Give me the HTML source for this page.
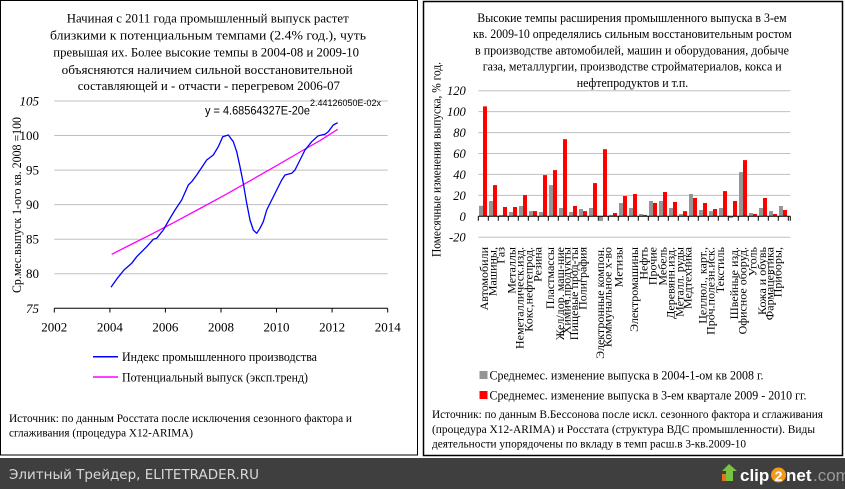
<!DOCTYPE html>
<html>
<head>
<meta charset="utf-8">
<style>
html,body{margin:0;padding:0;background:#fff;}
svg{display:block;}
.s{font-family:"Liberation Serif","Noto Serif CJK SC",serif;fill:#000;}
.a{font-family:"Liberation Sans","DejaVu Sans",sans-serif;}
</style>
</head>
<body>
<svg width="845" height="489" viewBox="0 0 845 489" xmlns="http://www.w3.org/2000/svg">
<rect x="0" y="0" width="845" height="489" fill="#fff"/>

<!-- LEFT PANEL -->
<rect x="0.5" y="0.5" width="417" height="454.5" fill="none" stroke="#000" stroke-width="1"/>
<g class="s" font-size="13">
<text x="66.7" y="22.5" textLength="282" lengthAdjust="spacingAndGlyphs">Начиная с 2011 года промышленный выпуск растет</text>
<text x="50" y="39.3" textLength="316" lengthAdjust="spacingAndGlyphs">близкими к потенциальным темпами (2.4% год.), чуть</text>
<text x="53.3" y="56.6" textLength="305.7" lengthAdjust="spacingAndGlyphs">превышая их. Более высокие темпы в 2004-08 и 2009-10</text>
<text x="61.7" y="73.9" textLength="291" lengthAdjust="spacingAndGlyphs">объясняются наличием сильной восстановительной</text>
<text x="77.7" y="90.2" textLength="262.3" lengthAdjust="spacingAndGlyphs">составляющей и - отчасти - перегревом 2006-07</text>
</g>

<!-- left gridlines -->
<g stroke="#c0c0c0" stroke-width="1">
<line x1="54.3" y1="101" x2="387.7" y2="101"/>
<line x1="54.3" y1="135.5" x2="387.7" y2="135.5"/>
<line x1="54.3" y1="170.1" x2="387.7" y2="170.1"/>
<line x1="54.3" y1="204.6" x2="387.7" y2="204.6"/>
<line x1="54.3" y1="239.2" x2="387.7" y2="239.2"/>
<line x1="54.3" y1="273.7" x2="387.7" y2="273.7"/>
</g>
<g stroke="#000" stroke-width="1">
<line x1="54.3" y1="308.3" x2="387.7" y2="308.3"/>
<line x1="54.3" y1="308.3" x2="54.3" y2="312.5"/>
<line x1="109.9" y1="308.3" x2="109.9" y2="312.5"/>
<line x1="165.4" y1="308.3" x2="165.4" y2="312.5"/>
<line x1="221" y1="308.3" x2="221" y2="312.5"/>
<line x1="276.5" y1="308.3" x2="276.5" y2="312.5"/>
<line x1="332.1" y1="308.3" x2="332.1" y2="312.5"/>
<line x1="387.7" y1="308.3" x2="387.7" y2="312.5"/>
</g>
<g class="s" font-size="13" text-anchor="end">
<text x="39" y="105.5" font-style="italic">105</text>
<text x="39" y="140">100</text>
<text x="39" y="174.6">95</text>
<text x="39" y="209.1">90</text>
<text x="39" y="243.7">85</text>
<text x="39" y="278.2">80</text>
<text x="39" y="312.8" font-style="italic">75</text>
</g>
<g class="s" font-size="13" text-anchor="middle">
<text x="54.3" y="331.5">2002</text>
<text x="109.9" y="331.5">2004</text>
<text x="165.4" y="331.5">2006</text>
<text x="221" y="331.5">2008</text>
<text x="276.5" y="331.5">2010</text>
<text x="332.1" y="331.5">2012</text>
<text x="387.7" y="331.5">2014</text>
</g>
<text class="s" font-size="13" transform="translate(21,205) rotate(-90)" text-anchor="middle" textLength="176" lengthAdjust="spacingAndGlyphs">Ср.мес.выпуск 1-ого кв. 2008 =100</text>

<!-- equation -->
<text class="a" font-size="12" x="205" y="114.5" textLength="105" lengthAdjust="spacingAndGlyphs">y = 4.68564327E-20e</text>
<text class="a" font-size="9.5" x="310" y="106" textLength="71" lengthAdjust="spacingAndGlyphs">2.44126050E-02x</text>

<!-- magenta trend -->
<path d="M111.7,254.3 L130,245 L150,234.9 L175,221.9 L200,208.5 L225,194.9 L250,180.8 L275,166.6 L300,152 L320,140.6 L337.7,129.3" fill="none" stroke="#ff00ff" stroke-width="1.3"/>
<!-- blue index -->
<path d="M111,287.3 L117.3,278.3 L124,270 L131.7,263.3 L136.7,256.7 L146.7,246.7 L153.3,239.3 L156.7,238.3 L163.3,230 L170,218.3 L175,210 L181.7,200 L188.3,185 L191.7,181.7 L196.7,175 L206.7,160 L213.3,155 L218.3,146.7 L222.7,136.7 L228.3,135 L233.3,141.7 L236.7,151.7 L240,166.7 L243.3,183.3 L246.7,203.3 L250,220 L253.3,230 L256.7,233.3 L260,228.3 L263.3,221.7 L266.7,210 L271.7,200 L276.7,190 L281.7,180 L285,175 L291.7,173.3 L295,170 L300,160 L305,150 L311.7,141.7 L318.3,135.7 L325,134.3 L328.3,131.7 L333.3,125 L337.7,122.7" fill="none" stroke="#0000ff" stroke-width="1.3" stroke-linejoin="round"/>

<!-- left legend -->
<line x1="93" y1="356.7" x2="118" y2="356.7" stroke="#0000ff" stroke-width="1.5"/>
<line x1="93" y1="377" x2="118" y2="377" stroke="#ff00ff" stroke-width="1.5"/>
<g class="s" font-size="13">
<text x="122" y="361" textLength="195" lengthAdjust="spacingAndGlyphs">Индекс промышленного производства</text>
<text x="122" y="381.5" textLength="186" lengthAdjust="spacingAndGlyphs">Потенциальный выпуск (эксп.тренд)</text>
</g>
<g class="s" font-size="12">
<text x="9" y="422" textLength="343" lengthAdjust="spacingAndGlyphs">Источник: по данным Росстата после исключения сезонного фактора и</text>
<text x="9" y="436.5" textLength="184" lengthAdjust="spacingAndGlyphs">сглаживания (процедура X12-ARIMA)</text>
</g>

<!-- RIGHT PANEL -->
<rect x="423.5" y="1.5" width="419" height="454" fill="none" stroke="#000" stroke-width="1.5"/>
<g class="s" font-size="13">
<text x="477.3" y="22" textLength="309.4" lengthAdjust="spacingAndGlyphs">Высокие темпы расширения промышленного выпуска в 3-ем</text>
<text x="473" y="38.2" textLength="318.7" lengthAdjust="spacingAndGlyphs">кв. 2009-10 определялись сильным восстановительным ростом</text>
<text x="475" y="54.4" textLength="314" lengthAdjust="spacingAndGlyphs">в производстве автомобилей, машин и оборудования, добыче</text>
<text x="482.7" y="70.6" textLength="299" lengthAdjust="spacingAndGlyphs">газа, металлургии, производстве стройматериалов, кокса и</text>
<text x="576.7" y="86.8" textLength="111.6" lengthAdjust="spacingAndGlyphs">нефтепродуктов и т.п.</text>
</g>

<!-- right gridlines -->
<g stroke="#c0c0c0" stroke-width="1">
<line x1="478.3" y1="90.7" x2="790.3" y2="90.7"/>
<line x1="478.3" y1="111.6" x2="790.3" y2="111.6"/>
<line x1="478.3" y1="132.6" x2="790.3" y2="132.6"/>
<line x1="478.3" y1="153.5" x2="790.3" y2="153.5"/>
<line x1="478.3" y1="174.4" x2="790.3" y2="174.4"/>
<line x1="478.3" y1="195.4" x2="790.3" y2="195.4"/>
<line x1="478.3" y1="237.2" x2="790.3" y2="237.2"/>
</g>
<g class="s" font-size="12.5" font-style="italic" text-anchor="end">
<text x="465.7" y="95.2">120</text>
<text x="465.7" y="116.1">100</text>
<text x="465.7" y="137.1">80</text>
<text x="465.7" y="158">60</text>
<text x="465.7" y="178.9">40</text>
<text x="465.7" y="199.9">20</text>
<text x="465.7" y="220.8">0</text>
<text x="465.7" y="241.7">-20</text>
</g>
<text class="s" font-size="13" transform="translate(440.5,159.5) rotate(-90)" text-anchor="middle" textLength="195" lengthAdjust="spacingAndGlyphs">Помесячные изменения выпуска, % год.</text>

<!-- bars gray -->
<g fill="#969696">
<rect x="479" y="205.8" width="4" height="10.5"/>
<rect x="489" y="201.0" width="4" height="15.3"/>
<rect x="499" y="214.9" width="4" height="1.4"/>
<rect x="509" y="212.0" width="4" height="4.3"/>
<rect x="519" y="206.0" width="4" height="10.3"/>
<rect x="529" y="211.1" width="4" height="5.2"/>
<rect x="539" y="212.0" width="4" height="4.3"/>
<rect x="549" y="185.1" width="4" height="31.2"/>
<rect x="559" y="208.0" width="4" height="8.3"/>
<rect x="569" y="212.0" width="4" height="4.3"/>
<rect x="579" y="209.0" width="4" height="7.3"/>
<rect x="589" y="208.0" width="4" height="8.3"/>
<rect x="599" y="216.3" width="4" height="4.6"/>
<rect x="609" y="214.9" width="4" height="1.4"/>
<rect x="619" y="203.0" width="4" height="13.3"/>
<rect x="629" y="208.0" width="4" height="8.3"/>
<rect x="639" y="214.0" width="4" height="2.3"/>
<rect x="649" y="201.0" width="4" height="15.3"/>
<rect x="659" y="201.0" width="4" height="15.3"/>
<rect x="669" y="208.0" width="4" height="8.3"/>
<rect x="679" y="214.0" width="4" height="2.3"/>
<rect x="689" y="194.0" width="4" height="22.3"/>
<rect x="699" y="210.0" width="4" height="6.3"/>
<rect x="709" y="211.1" width="4" height="5.2"/>
<rect x="719" y="208.0" width="4" height="8.3"/>
<rect x="729" y="216.3" width="4" height="1.7"/>
<rect x="739" y="172.1" width="4" height="44.2"/>
<rect x="749" y="213.0" width="4" height="3.3"/>
<rect x="759" y="208.0" width="4" height="8.3"/>
<rect x="769" y="211.1" width="4" height="5.2"/>
<rect x="779" y="206.0" width="4" height="10.3"/>
</g>
<!-- bars red -->
<g fill="#ff0000">
<rect x="483" y="106.4" width="4" height="109.9"/>
<rect x="493" y="185.1" width="4" height="31.2"/>
<rect x="503" y="207.0" width="4" height="9.3"/>
<rect x="513" y="207.0" width="4" height="9.3"/>
<rect x="523" y="195.1" width="4" height="21.2"/>
<rect x="533" y="211.1" width="4" height="5.2"/>
<rect x="543" y="175.1" width="4" height="41.2"/>
<rect x="553" y="170.1" width="4" height="46.2"/>
<rect x="563" y="139.2" width="4" height="77.1"/>
<rect x="573" y="206.0" width="4" height="10.3"/>
<rect x="583" y="211.1" width="4" height="5.2"/>
<rect x="593" y="183.1" width="4" height="33.2"/>
<rect x="603" y="149.2" width="4" height="67.1"/>
<rect x="613" y="213.0" width="4" height="3.3"/>
<rect x="623" y="196.0" width="4" height="20.3"/>
<rect x="633" y="194.0" width="4" height="22.3"/>
<rect x="643" y="214.9" width="4" height="1.4"/>
<rect x="653" y="203.0" width="4" height="13.3"/>
<rect x="663" y="192.0" width="4" height="24.3"/>
<rect x="673" y="202.0" width="4" height="14.3"/>
<rect x="683" y="211.1" width="4" height="5.2"/>
<rect x="693" y="198.0" width="4" height="18.3"/>
<rect x="703" y="203.0" width="4" height="13.3"/>
<rect x="713" y="209.0" width="4" height="7.3"/>
<rect x="723" y="191.1" width="4" height="25.2"/>
<rect x="733" y="201.0" width="4" height="15.3"/>
<rect x="743" y="160.1" width="4" height="56.2"/>
<rect x="753" y="214.0" width="4" height="2.3"/>
<rect x="763" y="198.0" width="4" height="18.3"/>
<rect x="773" y="214.0" width="4" height="2.3"/>
<rect x="783" y="210.0" width="4" height="6.3"/>
</g>
<!-- zero axis + ticks -->
<line x1="478.3" y1="216.3" x2="790.3" y2="216.3" stroke="#000" stroke-width="1"/>
<path d="M478.3,216.3v4.5M488.3,216.3v4.5M498.3,216.3v4.5M508.3,216.3v4.5M518.3,216.3v4.5M528.3,216.3v4.5M538.3,216.3v4.5M548.3,216.3v4.5M558.3,216.3v4.5M568.3,216.3v4.5M578.3,216.3v4.5M588.3,216.3v4.5M598.3,216.3v4.5M608.3,216.3v4.5M618.3,216.3v4.5M628.3,216.3v4.5M638.3,216.3v4.5M648.3,216.3v4.5M658.3,216.3v4.5M668.3,216.3v4.5M678.3,216.3v4.5M688.3,216.3v4.5M698.3,216.3v4.5M708.3,216.3v4.5M718.3,216.3v4.5M728.3,216.3v4.5M738.3,216.3v4.5M748.3,216.3v4.5M758.3,216.3v4.5M768.3,216.3v4.5M778.3,216.3v4.5M788.3,216.3v4.5M790.3,216.3v4.5" stroke="#000" stroke-width="1" fill="none"/>

<!-- category labels -->
<g class="s" font-size="12" text-anchor="end">
<text transform="translate(488,247) rotate(-90)">Автомобили</text>
<text transform="translate(496.7,247) rotate(-90)">Машины,</text>
<text transform="translate(504.7,247) rotate(-90)">Газ</text>
<text transform="translate(515.7,247) rotate(-90)">Металлы</text>
<text transform="translate(523.3,247) rotate(-90)">Неметаллическ.изд.</text>
<text transform="translate(532.3,247) rotate(-90)">Кокс,нефтепрод.</text>
<text transform="translate(541.7,247) rotate(-90)">Резина</text>
<text transform="translate(554,247) rotate(-90)">Пластмассы</text>
<text transform="translate(564,247) rotate(-90)">Жел/дор. маш-ние</text>
<text transform="translate(570.7,247) rotate(-90)">Химич.продукты</text>
<text transform="translate(578,247) rotate(-90)">Пищевые прод-ты</text>
<text transform="translate(586.7,247) rotate(-90)">Полиграфия</text>
<text transform="translate(604,247) rotate(-90)">Электронные компон.</text>
<text transform="translate(611.3,247) rotate(-90)">Коммунальное х-во</text>
<text transform="translate(622.7,247) rotate(-90)">Метизы</text>
<text transform="translate(638,247) rotate(-90)">Электромашины</text>
<text transform="translate(647.3,247) rotate(-90)">Нефть</text>
<text transform="translate(656.7,247) rotate(-90)">Прочие</text>
<text transform="translate(666.3,247) rotate(-90)">Мебель</text>
<text transform="translate(674.7,247) rotate(-90)">Деревянн.изд.</text>
<text transform="translate(683.3,247) rotate(-90)">Металл. руды</text>
<text transform="translate(691.3,247) rotate(-90)">Медтехника</text>
<text transform="translate(706.3,247) rotate(-90)">Целлюл., карт.,</text>
<text transform="translate(714.7,247) rotate(-90)">Проч.полезн.иск.</text>
<text transform="translate(724,247) rotate(-90)">Текстиль</text>
<text transform="translate(738,247) rotate(-90)">Швейные изд.</text>
<text transform="translate(746.7,247) rotate(-90)">Офисное оборуд.</text>
<text transform="translate(756.7,247) rotate(-90)">Уголь</text>
<text transform="translate(766,247) rotate(-90)">Кожа и обувь</text>
<text transform="translate(773.3,247) rotate(-90)">Фармацевтика</text>
<text transform="translate(781.3,247) rotate(-90)">Приборы,</text>
</g>

<!-- right legend -->
<rect x="479.5" y="371" width="8" height="8" fill="#969696"/>
<rect x="479.5" y="391" width="8" height="8" fill="#ff0000"/>
<g class="s" font-size="13">
<text x="489.5" y="379.5" textLength="274" lengthAdjust="spacingAndGlyphs">Среднемес. изменение выпуска в 2004-1-ом кв 2008 г.</text>
<text x="489.5" y="399.5" textLength="317" lengthAdjust="spacingAndGlyphs">Среднемес. изменение выпуска в 3-ем квартале 2009 - 2010 гг.</text>
</g>
<g class="s" font-size="12">
<text x="432" y="418" textLength="391" lengthAdjust="spacingAndGlyphs">Источник: по данным В.Бессонова после искл. сезонного фактора и сглаживания</text>
<text x="432" y="433" textLength="383" lengthAdjust="spacingAndGlyphs">(процедура X12-ARIMA) и Росстата (структура ВДС промышленности). Виды</text>
<text x="432" y="447.5" textLength="314" lengthAdjust="spacingAndGlyphs">деятельности упорядочены по вкладу в темп расш.в 3-кв.2009-10</text>
</g>

<!-- BOTTOM BAR -->
<rect x="0" y="458" width="845" height="31" fill="#3f3f3f"/>
<text x="9" y="479" font-family="'DejaVu Sans','Liberation Sans',sans-serif" font-size="13" fill="#d8d8d8" textLength="250" lengthAdjust="spacingAndGlyphs">Элитный Трейдер, ELITETRADER.RU</text>
<!-- clip2net logo -->
<rect x="722" y="474" width="9" height="7" fill="#e8731a"/>
<path d="M729,464 L737,471 L733,471 L733,481 L726,481 L726,471 L722,471 Z" fill="#7cc242"/>
<text x="740" y="481" class="a" font-size="17" font-weight="bold" fill="#ffffff">clip</text>
<circle cx="778.5" cy="475" r="7.5" fill="#f39a1e"/>
<text x="778.5" y="481" class="a" font-size="14" font-weight="bold" fill="#ffffff" text-anchor="middle">2</text>
<text x="786" y="481" class="a" font-size="17" font-weight="bold" fill="#ffffff">net</text>
<text x="813" y="481" class="a" font-size="17" fill="#9a9a9a">.com</text>
</svg>
</body>
</html>
